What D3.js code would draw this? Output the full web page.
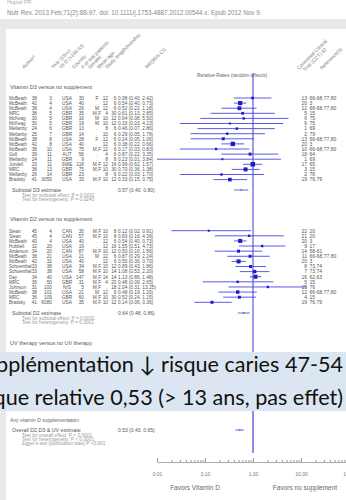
<!DOCTYPE html>
<html>
<head>
<meta charset="utf-8">
<script src="https://cdn.jsdelivr.net/npm/d3@7"></script>
<style>
  body { margin: 0; background: #fff; }
  svg { display: block; font-family: "Liberation Sans", Arial, sans-serif; }
</style>
</head>
<body>
<svg id="chart" width="346" height="500"></svg>
<script>
// ---- data -------------------------------------------------------------
var headers = ["Author\u00b9", "Year (19xx)", "Vit D (x100 IU)", "Country", "# of trial patients",
               "Gender", "Mean age", "Study length(months)", "RR(95% CI)"];
var headersRight = [["Controlled Clinical", "Trial (CCT) ID"], ["Reference(s)"]];

// Vitamin D3 versus no supplement
var d3Studies = [
  ["McBeath", "38", "3", "USA", "30", "F", "12", "6"],
  ["McBeath", "42", "4", "USA", "40", ".", "12", "6"],
  ["McBeath", "38", "4", "USA", "26", "M", "12", "6"],
  ["MRC", "38", "5", "GBR", "35", "M,F", "4", "30"],
  ["McKeag", "30", "5", "GBR", "16", "M", "10", "12"],
  ["McKeag", "30", "5", "GBR", "19", "M", "10", "12"],
  ["Mellanby", "24", "6", "GBR", "13", ".", "8", "6"],
  ["Mellanby", "25", "7", "GBR", "14", ".", "10", "6"],
  ["McBeath", "38", "8", "USA", "28", "F", "12", "6"],
  ["McBeath", "42", "8", "USA", "40", ".", "12", "6"],
  ["McBeath", "38", "10", "USA", "75", "M,F", "12", "6"],
  ["Goll", "39", "11", "AUT", "56", ".", "4", "6"],
  ["Mellanby", "24", "11", "GBR", "9", ".", "8", "8"],
  ["Jundell", "33", "11", "SWE", "118", "M,F", "12", "16"],
  ["MRC", "38", "13", "GBR", "75", "M,F", "10", "30"],
  ["Mellanby", "26", "14", "GBR", "23", ".", "8", "6"],
  ["Bradsky", "41", "3050", "USA", "33", "M,F", "10", "12"]
];
var d3RR = [0.98, 0.54, 0.52, 0.61, 0.64, 0.33, 0.46, 0.29, 0.24, 0.38, 0.17, 0.87, 0.23, 0.99, 0.70, 0.22, 0.33];
var d3Lo = [0.40, 0.40, 0.22, 0.13, 0.08, 0.03, 0.07, 0.05, 0.05, 0.22, 0.03, 0.22, 0.01, 0.62, 0.36, 0.03, 0.15];
var d3Hi = [2.42, 0.73, 1.18, 2.85, 5.50, 4.23, 2.86, 1.78, 1.06, 0.66, 0.83, 3.35, 3.84, 1.57, 1.38, 1.70, 0.75];
var d3Weight = [1.3, 2.1, 1.9, 1.4, 1.2, 1.0, 1.2, 1.2, 1.5, 2.2, 1.2, 1.5, 1.0, 2.3, 2.0, 1.2, 1.8];
var d3Cct = [["13", "66-68,77,80"], ["20", "3"], ["12", "66-68,77,80"], ["5", "15"], ["6", "75"], ["6", "75"],
             ["1", "69"], ["2", "79"], ["13", "66-68,77,80"], ["20", "3"], ["10", "66-68,77,80"], ["18", "64"],
             ["1", "69"], ["17", "65"], ["3", "15"], ["2", "78"], ["19", "76,79"]];
var d3Subtotal = [0.57, 0.40, 0.80];
var d3Tests = ["Test for subtotal effect: P = 0.0001", "Test for heterogeneity: P = 0.0240"];

// Vitamin D2 versus no supplement
var d2Studies = [
  ["Stean", "45", "4", "CAN", "30", "M,F", "10", "8"],
  ["Stean", "45", "4", "CAN", "57", "M,F", "10", "8"],
  ["McBeath", "40", "4", "USA", "40", ".", "12", "6"],
  ["Hubbell", "32", "20", "USA", "19", ".", "12", "16"],
  ["Anderson", "34", "20", "CAN", "87", "M,F", "10", "12"],
  ["McBeath", "38", "21", "USA", "21", "M", "12", "6"],
  ["McBeath", "42", "32", "USA", "40", ".", "12", "6"],
  ["Schoenthal", "33", "38", "USA", "34", "M,F", "10", "12"],
  ["Schoenthal", "33", "38", "USA", "58", "M,F", "10", "14"],
  ["Day", "34", "40", "USA", "147", "M,F", "14", "14"],
  ["MRC", "36", "50", "GBR", "31", "M,F", "4", "20"],
  ["Johnson", "31", "100", "N/S", "5", "M,F", ".", "18"],
  ["McBeath", "38", "101", "USA", "21", "M", "12", "6"],
  ["MRC", "36", "109", "GBR", "60", "M,F", "10", "30"],
  ["Bradsky", "41", "6080", "USA", "35", "M,F", "10", "12"]
];
var d2RR = [0.12, 0.83, 0.54, 1.55, 0.50, 0.87, 0.50, 0.89, 1.08, 1.13, 0.48, 2.04, 0.48, 0.52, 0.14];
var d2Lo = [0.02, 0.16, 0.40, 0.51, 0.16, 0.29, 0.36, 0.43, 0.53, 0.86, 0.09, 0.31, 0.19, 0.24, 0.06];
var d2Hi = [0.91, 4.39, 0.73, 4.73, 1.56, 2.24, 0.70, 1.86, 2.20, 1.48, 2.65, 13.25, 1.20, 1.15, 0.36];
var d2Weight = [1.0, 1.2, 2.0, 1.2, 1.5, 1.5, 2.0, 1.5, 1.7, 2.0, 1.2, 1.2, 1.7, 1.5, 1.5];
var d2Cct = [["22", "20"], ["21", "20"], ["20", "3"], ["9", "17"], ["14", "58-61"], ["11", "66-68,77,80"],
             ["20", "3"], ["8", "73,74"], ["7", "73,74"], ["16", "62,63"], ["5", "15"], ["15", "76"],
             ["12", "66-68,77,80"], ["4", "15"], ["19", "76,79"]];
var d2Subtotal = [0.64, 0.48, 0.86];
var d2Tests = ["Test for subtotal effect: P = 0.0031", "Test for heterogeneity: P = 0.0001"];

// Any vitamin D supplementation
var overall = [0.53, 0.43, 0.65];
var overallTests = ["Test for overall effect: P < 0.0001", "Test for heterogeneity: P < 0.0001",
                    "Egger's test (publication bias) P <0.001"];

var tickDecades = [0.01, 0.1, 1, 10, 100];
var tickLabels = ["0.01", "0.10", "1.00", "10.00", "100.0"];

var slideLines = ["Supplémentation \u2193 risque caries 47-54", "Risque relative 0,53 (> 13 ans, pas effet)"];

// ---- drawing ----------------------------------------------------------
var svg = d3.select("#chart");
var fmt = d3.format(".2f");
var rrText = function(r, l, h) { return fmt(r) + " (" + fmt(l) + ", " + fmt(h) + ")"; };

var x = d3.scaleLog().domain([0.01, 100]).range([157, 349]);

// photo frame
svg.append("rect").attr("width", 346).attr("height", 500).attr("fill", "#e9e9e9");
svg.append("rect").attr("width", 346).attr("height", 19).attr("fill", "#fff");
svg.append("rect").attr("x", 6).attr("y", 29).attr("width", 340).attr("height", 471).attr("fill", "#fff");

svg.append("text").attr("x", 7).attr("y", 4).attr("font-size", 5.5).attr("fill", "#aaa").text("Hujoel PP.");
svg.append("text").attr("x", 7).attr("y", 15).attr("font-size", 6.3).attr("fill", "#888")
  .text("Nutr Rev. 2013 Feb;71(2):88-97. doi: 10.1111/j.1753-4887.2012.00544.x. Epub 2012 Nov 9.");

// column headers, rotated
var colX = [9, 37, 52, 67, 84, 97, 108, 116.5, 118];
var colAnchor = ["start", "end", "end", "middle", "end", "middle", "end", "end", "start"];
var headX = [24, 53, 61, 74, 83, 90, 99, 107, 147];
svg.selectAll(".head").data(headers).enter().append("text")
  .attr("class", "head")
  .attr("transform", (d, i) => "translate(" + headX[i] + ",69) rotate(-45)")
  .attr("font-size", 5).attr("fill", "#777").text(d => d);

var headRX = [299, 322];
headersRight.forEach(function(lines, i) {
  var t = svg.append("text").attr("transform", "translate(" + headRX[i] + ",70) rotate(-45)")
    .attr("font-size", 5).attr("fill", "#777");
  lines.forEach(function(l, j) {
    t.append("tspan").attr("x", j * 3).attr("dy", j === 0 ? 0 : 5.5).text(l);
  });
});

svg.append("text").attr("x", 232).attr("y", 77).attr("text-anchor", "middle")
  .attr("font-size", 5).attr("fill", "#666").text("Relative Rates (random effects)");

// reference line at RR = 1
svg.append("line").attr("x1", x(1)).attr("x2", x(1)).attr("y1", 73).attr("y2", 453)
  .attr("stroke", "#3a3ad8").attr("stroke-width", 1);

function drawGroup(title, titleY, studies, rr, lo, hi, w, cct, y0, y1) {
  var y = d3.scalePoint().domain(d3.range(studies.length)).range([y0, y1]);
  svg.append("text").attr("x", 10).attr("y", titleY).attr("font-size", 5.5).attr("fill", "#555").text(title);

  var row = svg.append("g").selectAll("g").data(studies).enter().append("g")
    .attr("transform", (d, i) => "translate(0," + y(i) + ")");
  row.selectAll("text").data(d => d).enter().append("text")
    .attr("x", (d, j) => colX[j]).attr("y", 1.8)
    .attr("text-anchor", (d, j) => colAnchor[j])
    .attr("font-size", (d, j) => j === 0 ? 4.5 : 4.8).attr("fill", "#555").text(d => d);
  row.append("text").attr("x", colX[8]).attr("y", 1.8).attr("font-size", 4.8).attr("fill", "#555")
    .text((d, i) => rrText(rr[i], lo[i], hi[i]));
  row.append("text").attr("x", 307).attr("y", 1.8).attr("text-anchor", "end")
    .attr("font-size", 5).attr("fill", "#555").text((d, i) => cct[i][0]);
  row.append("text").attr("x", 309.5).attr("y", 1.8)
    .attr("font-size", 5).attr("fill", "#555").text((d, i) => cct[i][1]);

  row.append("line")
    .attr("x1", (d, i) => Math.max(0, x(lo[i]))).attr("x2", (d, i) => x(hi[i]))
    .attr("stroke", "#4848e0").attr("stroke-width", 0.9);
  row.append("rect")
    .attr("x", (d, i) => x(rr[i]) - w[i]).attr("y", (d, i) => -w[i])
    .attr("width", (d, i) => 2 * w[i]).attr("height", (d, i) => 2 * w[i])
    .attr("fill", "#1c1cc8");
}

function drawSummary(label, est, tests, yy, color) {
  svg.append("text").attr("x", 12).attr("y", yy + 1.8).attr("font-size", 5.3).attr("fill", "#555").text(label);
  svg.append("text").attr("x", colX[8]).attr("y", yy + 1.8).attr("font-size", 5).attr("fill", "#555")
    .text(rrText(est[0], est[1], est[2]));
  svg.selectAll(null).data(tests).enter().append("text")
    .attr("x", 22).attr("y", (d, i) => yy + 6.5 + i * 4.3)
    .attr("font-size", 4.8).attr("fill", "#999").text(d => d);
  svg.append("line").attr("x1", x(est[1])).attr("x2", x(est[2])).attr("y1", yy).attr("y2", yy)
    .attr("stroke", color).attr("stroke-width", 1);
  svg.append("circle").attr("cx", x(est[0])).attr("cy", yy).attr("r", 0.9).attr("fill", color);
}

drawGroup("Vitamin D3 versus no supplement", 89, d3Studies, d3RR, d3Lo, d3Hi, d3Weight, d3Cct, 98, 179.6);
drawSummary("Subtotal D3 estimate", d3Subtotal, d3Tests, 190, "#6a6ae0");
drawGroup("Vitamin D2 versus no supplement", 221, d2Studies, d2RR, d2Lo, d2Hi, d2Weight, d2Cct, 230.7, 302.3);
drawSummary("Subtotal D2 estimate", d2Subtotal, d2Tests, 313, "#6a6ae0");

svg.append("text").attr("x", 10).attr("y", 345).attr("font-size", 5.5).attr("fill", "#555")
  .text("UV therapy versus no UV therapy");

// overlay band from the slide
svg.append("rect").attr("x", 0).attr("y", 352).attr("width", 346).attr("height", 59).attr("fill", "#dce6f2");
svg.selectAll(".slide").data(slideLines).enter().append("text")
  .attr("class", "slide").attr("x", 343).attr("y", (d, i) => 372 + i * 33)
  .attr("text-anchor", "end").attr("font-family", "Lato, 'Open Sans', sans-serif")
  .attr("font-size", 21.6).attr("fill", "#111").text(d => d);

svg.append("line").attr("x1", x(1)).attr("x2", x(1)).attr("y1", 411).attr("y2", 453)
  .attr("stroke", "#7c7ce0").attr("stroke-width", 1);

svg.append("text").attr("x", 10).attr("y", 422).attr("font-size", 5).attr("fill", "#666")
  .text("Any vitamin D supplementation");
drawSummary("Overall D2,D3 & UV estimate", overall, overallTests, 430, "#6a6ae0");

// log axis
var minor = [];
tickDecades.slice(0, -1).forEach(function(d) { d3.range(1, 10).forEach(k => minor.push(d * k)); });
minor.push(100);
var axis = svg.append("g").attr("transform", "translate(0,462)")
  .call(d3.axisBottom(x).tickValues(minor).tickSizeInner(-2).tickSizeOuter(0).tickPadding(10)
    .tickFormat(d => { var k = tickDecades.indexOf(d); return k < 0 ? "" : tickLabels[k]; }));
axis.select(".domain").attr("stroke", "#aaa");
axis.selectAll(".tick line").attr("stroke", "#999")
  .attr("y2", d => tickDecades.indexOf(d) < 0 ? -2 : -4);
axis.selectAll(".tick text").attr("font-size", 5).attr("fill", "#777");

svg.append("text").attr("x", 195).attr("y", 490).attr("text-anchor", "middle")
  .attr("font-size", 6.5).attr("fill", "#666").text("Favors Vitamin D");
svg.append("text").attr("x", 305).attr("y", 490).attr("text-anchor", "middle")
  .attr("font-size", 6.5).attr("fill", "#666").text("Favors no supplement");
</script>
</body>
</html>
